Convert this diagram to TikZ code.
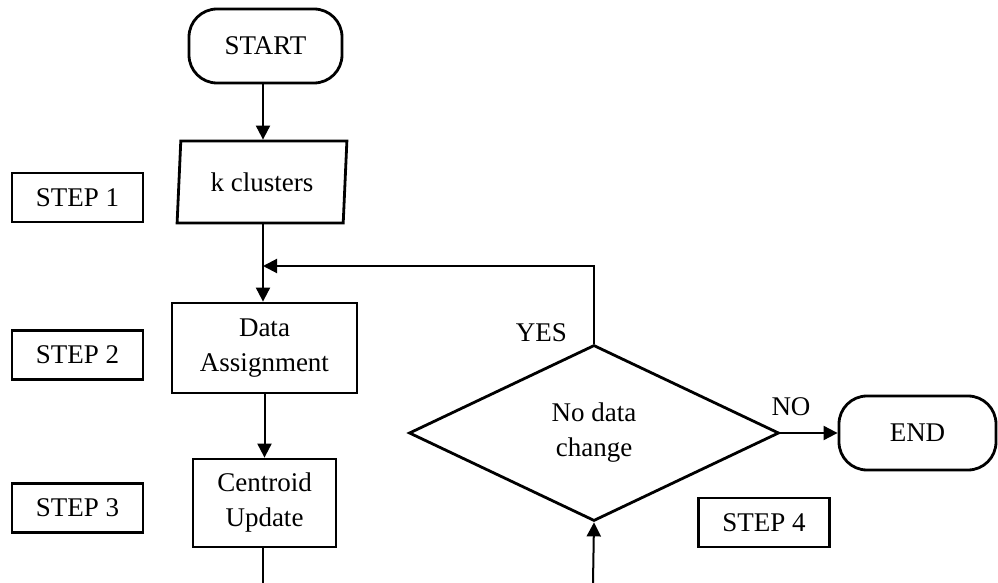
\documentclass[tikz,border=0pt]{standalone}
\usepackage{fontspec}
\setmainfont{Liberation Serif}
\usetikzlibrary{positioning, shapes.geometric, arrows.meta}

\begin{document}
\begin{tikzpicture}[x=0.5pt, y=-0.5pt,
  font=\fontsize{13.5}{17.5}\selectfont,
  stepbox/.style={draw, line width=1.4pt, minimum width=65.5pt, minimum height=24.5pt, inner sep=0pt},
  procbox/.style={draw, line width=1.4pt, align=center, inner sep=0pt},
  termbox/.style={draw, line width=1.4pt, rounded corners=14pt, minimum width=76.5pt, minimum height=37pt, inner sep=0pt},
  conn/.style={-{Triangle[length=7pt, width=7pt]}, line width=1pt}
]
\useasboundingbox (0,0) rectangle (998,583);

% Steps
\node[stepbox] (s1) at (77.5,197.5) {STEP 1};
\node[stepbox] (s2) at (77.5,355) {STEP 2};
\node[stepbox] (s3) at (77.5,508) {STEP 3};
\node[stepbox] (s4) at (764,522.5) {STEP 4};

% Flow
\node[termbox] (start) at (265.5,46) {START};
\node[draw, line width=1.4pt, trapezium, trapezium left angle=83, trapezium right angle=97,
  trapezium stretches=true, minimum width=85pt, minimum height=41pt, inner sep=0pt] (kclu) at (262,182) {k clusters};
\node[procbox, minimum width=92.5pt, minimum height=45pt] (assign) at (264.5,348) {Data\\Assignment};
\node[procbox, minimum width=71.5pt, minimum height=44pt] (update) at (264.5,503) {Centroid\\Update};
\node[draw, line width=1.4pt, diamond, align=center, minimum width=185pt, minimum height=88pt, inner sep=0pt] (check) at (594,433) {No data\\change};
\node[termbox, minimum width=78.5pt] (finish) at (917.5,433) {END};

\coordinate (merge) at (263,266);
\coordinate (upd-out) at (263,583);
\coordinate (chk-in) at (593,583);

% Arrows
\draw[conn] (start.south -| merge) -- (kclu.north -| merge);
\draw[conn] (kclu.south -| merge) -- (assign.north -| merge);
\draw[conn] (check.north) |- (merge);
\draw[conn] (assign) -- (update);
\draw[line width=1pt] (update.south -| upd-out) -- (upd-out);
\draw[conn] (chk-in) -- (check.south);
\draw[conn] (check.east) -- node[above=5pt, xshift=-9pt] (no) {NO} (finish.west);

\node[anchor=east] (yes) at (574,333) {YES};

\end{tikzpicture}
\end{document}
